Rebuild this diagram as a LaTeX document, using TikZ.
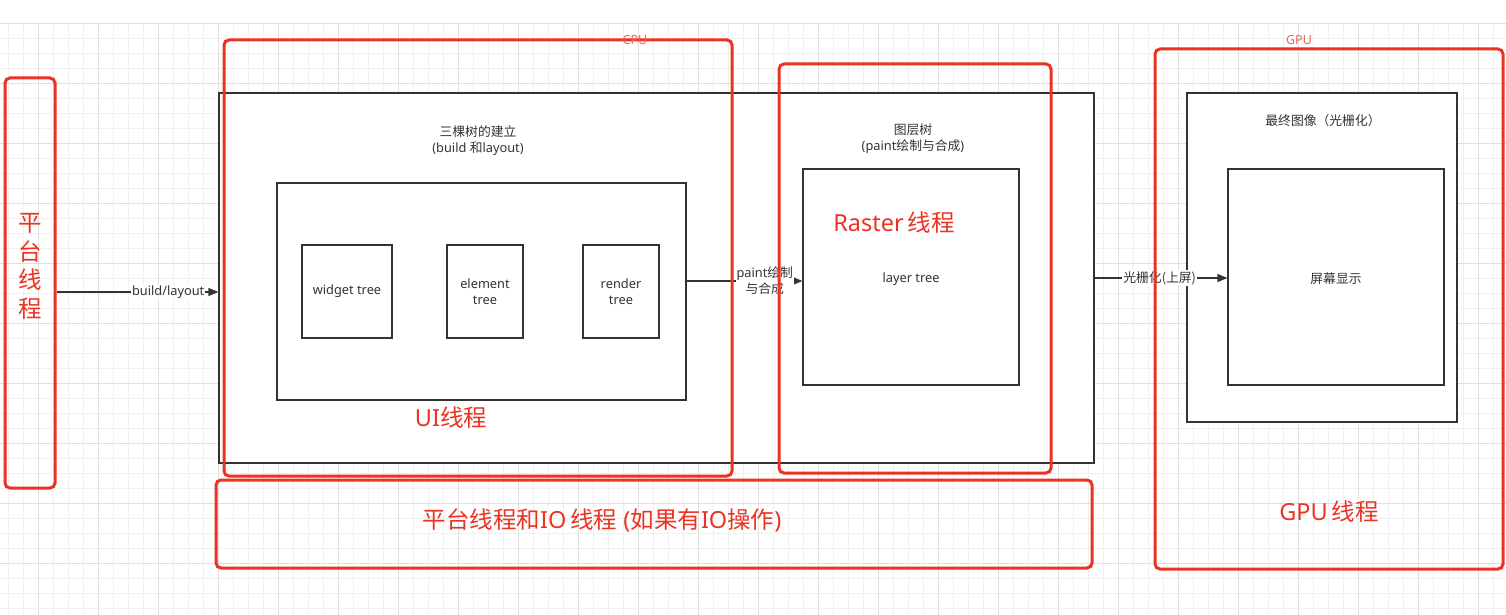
\documentclass[tikz,border=0pt]{standalone}
\usepackage{fontspec}
\setmainfont{Noto Sans}
\newfontfamily\cjk{Noto Sans CJK SC}
\usetikzlibrary{arrows.meta}
\pgfdeclarelayer{fg}
\pgfsetlayers{main,fg}
\definecolor{ink}{HTML}{333333}
\definecolor{lane}{HTML}{EA3323}
\definecolor{tag}{HTML}{EC6650}
\definecolor{gridminor}{HTML}{F0F0F0}
\definecolor{gridmajor}{HTML}{E0E0E0}
\tikzset{
  gbox/.style={draw=ink, line width=1.2pt, fill=white, inner sep=0pt},
  lanebox/.style={draw=lane, line width=3pt, rounded corners=5pt, inner sep=0pt},
  txt/.style={text=ink, font=\fontsize{12.8}{15.8}\selectfont, align=center, inner sep=1pt},
  big/.style={text=lane, font=\fontsize{23.5}{28.5}\selectfont, align=center, inner sep=0pt},
  tagtxt/.style={text=tag, font=\fontsize{12.5}{14}\selectfont, inner sep=0pt},
  arr/.style={draw=ink, line width=1.2pt, -{Triangle[length=10pt,width=8pt]}},
  lab/.style={txt, fill=white}
}
\begin{document}
\begin{tikzpicture}[x=1pt,y=-1pt]
\useasboundingbox (0,0) rectangle (1506,615);
\fill[white] (0,0) rectangle (1506,615);
% background grid
\foreach \x in {8,23,...,1506} \draw[gridminor, line width=0.8pt] (\x,23) -- (\x,615);
\foreach \y in {23,38,...,615} \draw[gridminor, line width=0.8pt] (0,\y) -- (1506,\y);
\foreach \x in {38,98,...,1506} \draw[gridmajor, line width=0.8pt] (\x,23) -- (\x,615);
\foreach \y in {23,83,...,615} \draw[gridmajor, line width=0.8pt] (0,\y) -- (1506,\y);

% stage boxes
\node[gbox, minimum width=875pt, minimum height=370pt] (outer) at (656.5,278) {};
\node[gbox, minimum width=409pt, minimum height=217pt] (trees) at (481.5,291.5) {};
\node[gbox, minimum width=90pt, minimum height=93pt] (widget) at (347,291.5) {};
\node[gbox, minimum width=76pt, minimum height=93pt] (element) at (485,291.5) {};
\node[gbox, minimum width=76pt, minimum height=93pt] (render) at (621,291.5) {};
\node[gbox, minimum width=216pt, minimum height=216pt] (layer) at (911,277) {};
\node[gbox, minimum width=270pt, minimum height=329pt] (final) at (1322,257.5) {};
\node[gbox, minimum width=216pt, minimum height=216pt] (screen) at (1336,277) {};

% box texts
\node[txt] (treesT) at (478,141) {{\cjk 三棵树的建立}\\(build {\cjk 和}layout)};
\node[txt] (layerT) at (913,139) {{\cjk 图层树}\\(paint{\cjk 绘制与合成})};
\node[txt] (finalT) at (1323,121) {{\cjk 最终图像（光栅化）}};
\node[txt] (widgetT) at (widget) {widget tree};
\node[txt] (elementT) at (element) {element\\tree};
\node[txt] (renderT) at (render) {render\\tree};
\node[txt] (layerTreeT) at (911,279) {layer tree};
\node[txt] (screenT) at (1336,279) {{\cjk 屏幕显示}};

% thread lanes
\begin{pgfonlayer}{fg}
\node[lanebox, minimum width=50pt, minimum height=410pt] (plat) at (30,283) {};
\node[lanebox, minimum width=508pt, minimum height=436pt] (ui) at (478,258) {};
\node[lanebox, minimum width=272pt, minimum height=409pt] (raster) at (915,268.5) {};
\node[lanebox, minimum width=876pt, minimum height=88pt] (io) at (654,524) {};
\node[lanebox, minimum width=348pt, minimum height=520pt] (gpu) at (1329,309) {};

\node[big] (platT) at (30,266.5) {{\cjk 平}\\{\cjk 台}\\{\cjk 线}\\{\cjk 程}};
\node[big] (uiT) at (451,418) {UI{\cjk 线程}};
\node[big] (rasterT) at (894,223) {Raster\,{\cjk 线程}};
\node[big] (ioT) at (602,520) {{\cjk 平台线程和}IO\,{\cjk 线程} ({\cjk 如果有}IO{\cjk 操作})};
\node[big] (gpuT) at (1329,512) {GPU\,{\cjk 线程}};

\node[tagtxt] (cpuTag) at (635,40) {CPU};
\node[tagtxt] (gpuTag) at (1299,40) {GPU};
\end{pgfonlayer}

% data flow
\coordinate (y1) at (0,292);
\coordinate (y2) at (0,281);
\coordinate (y3) at (0,278);
\draw[arr] (plat.east |- y1) -- node[lab, pos=0.69] {build/layout} (outer.west |- y1);
\draw[arr] (trees.east |- y2) -- node[lab, pos=0.675] {paint{\cjk 绘制}\\{\cjk 与合成}} (layer.west |- y2);
\draw[arr] (outer.east |- y3) -- node[lab, pos=0.49] {{\cjk 光栅化(上屏)}} (screen.west |- y3);
\end{tikzpicture}
\end{document}
